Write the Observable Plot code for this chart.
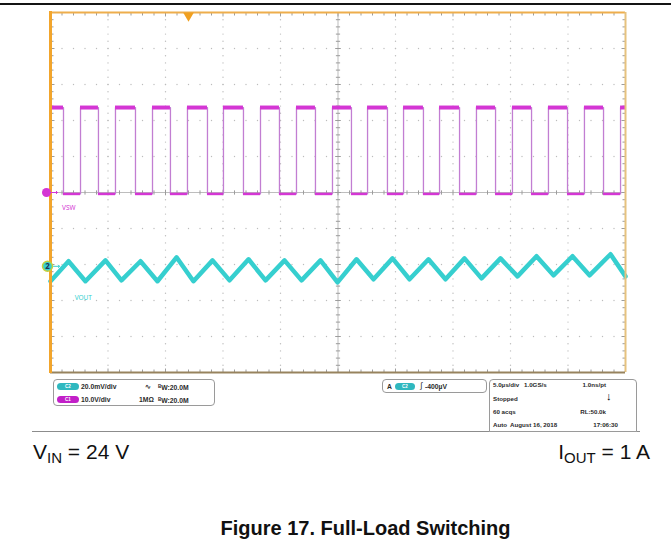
<!DOCTYPE html>
<html><head><meta charset="utf-8">
<script src="https://cdn.jsdelivr.net/npm/d3@7"></script>
<script src="https://cdn.jsdelivr.net/npm/@observablehq/plot@0.6"></script>
<style>
body{margin:0;background:#fff;font-family:"Liberation Sans",Arial,sans-serif;}
#page{position:relative;width:671px;height:557px;overflow:hidden;background:#fff;}
.a{position:absolute;white-space:nowrap;}
.box{position:absolute;border:1px solid #9a9a9a;border-radius:4px;box-sizing:border-box;background:#fff;}
.t{position:absolute;white-space:nowrap;font-weight:bold;font-size:6.8px;line-height:8px;color:#2a2a2a;}
.t3{font-size:6.2px;}
.pill{position:absolute;border-radius:4px;height:7px;width:22px;font-size:4.5px;line-height:7px;color:#fff;text-align:center;font-weight:bold;}
.big{font-size:21px;line-height:21px;color:#111;}
.big sub{font-size:15px;vertical-align:-4px;line-height:0;}
</style></head><body><div id="page"></div>
<script>
// ---- oscilloscope settings (from the info panel) ----
const timePerDiv = 5;          // µs/div
const vswVoltsPerDiv = 10;     // V/div  (C1)
const voutMvPerDiv = 20;       // mV/div (C2)
const vswPosition = 0;         // div
const voutPosition = -2.05;    // div
const triggerTime = 12;        // µs

// ---- VSW switching node (C1): edge times in µs, levels in V ----
const vswFallingEdges = [1.13, 4.17, 7.39, 10.43, 13.65, 16.78, 19.91, 23.04, 26.17, 29.30, 32.43, 35.57, 38.70, 41.83, 44.96, 48.09];
const vswRisingEdges  = [2.61, 5.65, 8.87, 11.91, 15.04, 18.26, 21.39, 24.52, 27.57, 30.70, 33.83, 37.04, 40.17, 43.30, 46.43, 49.57];
const vswHigh = 23.6;
const vswLow = -0.4;

// ---- VOUT ripple (C2): peaks and troughs, µs and mV ----
const voutTime = [0, 1.57, 3.04, 4.78, 6.17, 7.83, 9.30, 10.96, 12.43, 14.09, 15.57, 17.22, 18.70, 20.35, 21.83, 23.48, 24.96, 26.61, 28.09, 29.74, 31.22, 32.87, 34.35, 36.00, 37.48, 39.13, 40.61, 42.26, 43.74, 45.39, 46.87, 48.70, 50];
const voutMv   = [-8.3, 2.8, -8.3, 3.3, -7.8, 2.8, -8.3, 5.0, -8.3, 3.3, -7.8, 3.9, -7.8, 3.3, -7.8, 3.3, -8.9, 3.9, -7.2, 4.4, -7.2, 3.9, -7.2, 4.4, -6.7, 4.4, -5.6, 5.6, -5.0, 5.6, -5.0, 6.7, -5.6];

// ---- text ----
const channelLabels = ["VSW", "VOUT"];
const panel1 = [["C2", "20.0mV/div", "∿", "20.0M"], ["C1", "10.0V/div", "1MΩ", "20.0M"]];
const triggerText = ["A", "C2", "-400µV"];
const panel3 = [["5.0µs/div", "1.0GS/s", "1.0ns/pt"], ["Stopped", "", "↓"], ["60 acqs", "", "RL:50.0k"], ["Auto", "August 16, 2018", "17:06:30"]];
const conditions = ["V<sub>IN</sub> = 24 V", "I<sub>OUT</sub> = 1 A"];
const caption = "Figure 17. Full-Load Switching";

// ---- colours ----
const magenta = "#d436d4", magentaEdge = "#c27ed2", cyan = "#36cfcf";

const tEnd = timePerDiv * 10;
const vswDiv = v => v / vswVoltsPerDiv + vswPosition;
const voutDiv = mv => mv / voutMvPerDiv + voutPosition;

// VSW polyline built from edges
const vswPoints = [{t: 0, v: vswHigh}];
vswFallingEdges.forEach((f, i) => {
  const r = vswRisingEdges[i];
  vswPoints.push({t: f, v: vswHigh}, {t: f, v: vswLow}, {t: r, v: vswLow}, {t: r, v: vswHigh});
});
vswPoints.push({t: tEnd, v: vswHigh});
const highSegs = [0, ...vswRisingEdges].map((s, i) => ({t1: s, t2: i < vswFallingEdges.length ? vswFallingEdges[i] : tEnd}));
const lowSegs = vswFallingEdges.map((f, i) => ({t1: f, t2: vswRisingEdges[i]}));
const vout = voutTime.map((t, i) => ({t, mv: voutMv[i]}));

// graticule
const minorT = d3.range(0, 51).map(i => ({t: i * timePerDiv / 5, major: i % 5 === 0, i}));
const minorD = d3.range(0, 51).map(i => ({d: -5 + i * 0.2, major: i % 5 === 0, i}));
const gridDots = [];
for (let k = 1; k < 10; k++) {
  if (k === 5) continue;
  minorD.forEach(m => { if (m.i > 0 && m.i < 50) gridDots.push({t: k * timePerDiv, d: m.d}); });
  minorT.forEach(m => { if (m.i > 0 && m.i < 50) gridDots.push({t: m.t, d: -5 + k}); });
}
const sym = (ax, ay, bx, by) => ({draw(ctx, size) { const l = Math.sqrt(size / Math.PI); ctx.moveTo(ax * l, ay * l); ctx.lineTo(bx * l, by * l); }});
const tickDown = sym(0, 0, 0, 1), tickUp = sym(0, 0, 0, -1), tickRight = sym(0, 0, 1, 0), tickLeft = sym(0, 0, -1, 0);
const tickV = sym(0, -1, 0, 1), tickH = sym(-1, 0, 1, 0);
const innerT = minorT.filter(m => m.i > 0 && m.i < 50);
const innerD = minorD.filter(m => m.i > 0 && m.i < 50);
const tickStyle = {stroke: "#9c9c9c", fill: "none", strokeWidth: 1};

const chart = Plot.plot({
  width: 671, height: 378,
  marginLeft: 50, marginRight: 46, marginTop: 12, marginBottom: 6,
  x: {domain: [0, tEnd], axis: null},
  y: {domain: [-5, 5], axis: null},
  style: {background: "transparent", overflow: "visible"},
  marks: [
    Plot.dot(gridDots, {x: "t", y: "d", r: 0.7, fill: "#bcbcbc"}),
    Plot.ruleX([tEnd / 2], {stroke: "#bdbdbd", strokeWidth: 1}),
    Plot.ruleY([0], {stroke: "#bdbdbd", strokeWidth: 1}),
    Plot.dot(innerT, {x: "t", y: 0, r: d => d.major ? 3.5 : 2, symbol: tickV, ...tickStyle}),
    Plot.dot(innerD, {x: tEnd / 2, y: "d", r: d => d.major ? 3.5 : 2, symbol: tickH, ...tickStyle}),
    Plot.dot(innerT, {x: "t", y: 5, r: d => d.major ? 7 : 4, symbol: tickDown, ...tickStyle}),
    Plot.dot(innerT, {x: "t", y: -5, r: d => d.major ? 7 : 4, symbol: tickUp, ...tickStyle}),
    Plot.dot(innerD, {x: 0, y: "d", r: d => d.major ? 7 : 4, symbol: tickRight, ...tickStyle}),
    Plot.dot(innerD, {x: tEnd, y: "d", r: d => d.major ? 7 : 4, symbol: tickLeft, ...tickStyle}),
    // traces
    Plot.line(vswPoints, {x: "t", y: d => vswDiv(d.v), stroke: magentaEdge, strokeWidth: 1.3}),
    Plot.ruleY(highSegs, {x1: "t1", x2: "t2", y: vswDiv(vswHigh), stroke: magenta, strokeWidth: 4}),
    Plot.ruleY(lowSegs, {x1: "t1", x2: "t2", y: vswDiv(vswLow), stroke: magenta, strokeWidth: 2.5}),
    Plot.line(vout, {x: "t", y: d => voutDiv(d.mv), stroke: cyan, strokeWidth: 4.5, strokeLinejoin: "round", curve: "linear"}),
    // frame
    Plot.ruleY([5], {stroke: "#eeae4c", strokeWidth: 2}),
    Plot.ruleX([tEnd], {stroke: "#e6c27e", strokeWidth: 2}),
    Plot.ruleY([-5], {stroke: "#97835e", strokeWidth: 2}),
    Plot.ruleX([0], {stroke: "#f2a52c", strokeWidth: 3, y1: -5.03, y2: 5.03}),
    // trigger marker
    Plot.dot([triggerTime], {x: d => d, y: 5, symbol: "triangle", rotate: 180, r: 4, fill: "#f0a020", dy: 3}),
    // channel markers
    Plot.dot([vswPosition], {x: 0, y: d => d, r: 4.5, fill: magenta, dx: -4}),
    Plot.vector([vswPosition], {x: 0, y: d => d, rotate: 90, length: 6, anchor: "start", stroke: magenta, strokeWidth: 1, dx: 1}),
    Plot.dot([voutPosition], {x: 0, y: d => d, r: 5, fill: cyan, stroke: "#c9cf3a", strokeWidth: 1.5, dx: -3}),
    Plot.text([voutPosition], {x: 0, y: d => d, text: () => "2", dx: -3, fontSize: 8, fontWeight: "bold", fill: "#235"}),
    Plot.vector([voutPosition], {x: 0, y: d => d, rotate: 90, length: 6, anchor: "start", stroke: cyan, strokeWidth: 1, dx: 3}),
    Plot.text([channelLabels[0]], {x: 1.0, y: vswPosition - 0.44, text: d => d, textAnchor: "start", fontSize: 6.5, fill: magenta}),
    Plot.text([channelLabels[1]], {x: 2.1, y: voutPosition - 0.87, text: d => d, textAnchor: "start", fontSize: 6.5, fill: cyan})
  ]
});

const page = document.getElementById("page");
chart.style.position = "absolute"; chart.style.left = "0px"; chart.style.top = "0px";
page.appendChild(chart);

function el(html, cls, css, parent) {
  const d = document.createElement("div");
  d.className = cls; d.innerHTML = html;
  Object.assign(d.style, css);
  (parent || page).appendChild(d);
  return d;
}
// top rule and bottom rule
el("", "a", {left: "0px", top: "3px", width: "671px", height: "2px", background: "#141414"});
el("", "a", {left: "32px", top: "431px", width: "608px", height: "1px", background: "#8c8c8c"});

// panel 1: channel settings
const b1 = el("", "box", {left: "53px", top: "379px", width: "162px", height: "27px"});
panel1.forEach((row, i) => {
  const cy = 6.5 + i * 13;
  el(row[0], "pill", {left: "3px", top: (cy - 3.5) + "px", background: i === 0 ? "#2fb8bf" : "#c21fc8"}, b1);
  el(row[1], "t", {left: "27px", top: (cy - 4) + "px"}, b1);
  el(row[2], "t", {left: i === 0 ? "91px" : "85px", top: (cy - 4) + "px"}, b1);
  el("<span style='font-size:4.5px;vertical-align:2px'>B</span>W:" + row[3], "t", {left: "104px", top: (cy - 4) + "px"}, b1);
});
// panel 2: trigger
const b2 = el("", "box", {left: "382px", top: "379px", width: "105px", height: "14px"});
el(triggerText[0], "t", {left: "4px", top: "2.5px"}, b2);
el(triggerText[1], "pill", {left: "12px", top: "2.5px", width: "20px", background: "#2fb8bf"}, b2);
el("<span style='font-style:italic;font-weight:normal;font-size:8px'>∫</span>", "t", {left: "37px", top: "2px"}, b2);
el(triggerText[2], "t", {left: "42px", top: "2.5px"}, b2);
// panel 3: acquisition
const b3 = el("", "box", {left: "489px", top: "379px", width: "148px", height: "53px", borderBottomLeftRadius: "0", borderBottomRightRadius: "0"});
const rowY = [6, 20, 33, 46];
panel3.forEach((row, i) => {
  const top = (rowY[i] - 1 - 4) + "px";
  el(row[0], "t t3", {left: "3px", top}, b3);
  if (row[1]) el(row[1], "t t3", {left: i === 0 ? "34px" : "20px", top}, b3);
  if (i === 1) el(row[2], "t", {left: "116px", top: "11px", fontSize: "11px", lineHeight: "11px", color: "#000"}, b3);
  else el(row[2], "t t3", {right: i === 3 ? "18px" : "30px", top}, b3);
});

// conditions and caption
el(conditions[0], "a big", {left: "33px", top: "441px"});
el(conditions[1], "a big", {right: "21px", top: "441px"});
el(caption, "a", {left: "0px", width: "731px", textAlign: "center", top: "518px", fontSize: "20px", lineHeight: "20px", fontWeight: "bold", color: "#111"});
</script></body></html>
